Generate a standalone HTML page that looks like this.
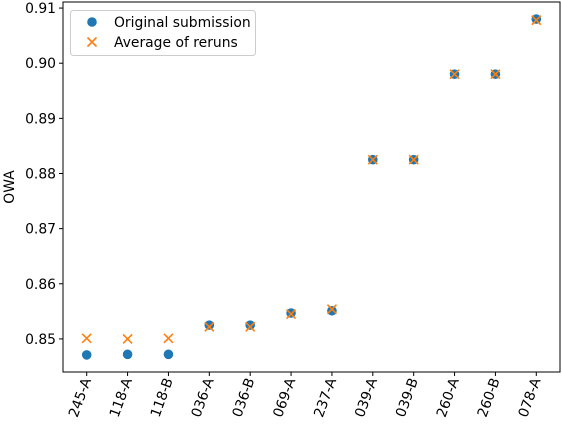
<!DOCTYPE html>
<html><head><meta charset="utf-8"><style>
html,body{margin:0;padding:0;background:#fff;}
svg{display:block;font-family:"DejaVu Sans","Liberation Sans",sans-serif;}
</style></head><body>
<svg id="chart" width="562" height="428" viewBox="0 0 562 428"></svg>
<script>
const categories=["245-A","118-A","118-B","036-A","036-B","069-A","237-A","039-A","039-B","260-A","260-B","078-A"];
const originalValues=[0.8471,0.8472,0.8472,0.8525,0.8525,0.8547,0.8551,0.8825,0.8825,0.8980,0.8980,0.9080];
const rerunValues=[0.8501,0.8500,0.8501,0.8522,0.8522,0.8545,0.8554,0.8825,0.8825,0.8980,0.8980,0.9078];
const yTicks=[0.85,0.86,0.87,0.88,0.89,0.90,0.91];
const yTickLabels=["0.85","0.86","0.87","0.88","0.89","0.90","0.91"];

const L=63,R=560,T=2,B=372;
const yMin=0.8440,yMax=0.9111;
const n=categories.length, pad=0.58;
const FS=13.9;
function xs(i){return L+(i+pad)*(R-L)/(n-1+2*pad);}
function ys(v){return B-(v-yMin)/(yMax-yMin)*(B-T);}
const NS="http://www.w3.org/2000/svg";
const svg=document.getElementById('chart');
function mk(tag,attrs,parent){const e=document.createElementNS(NS,tag);for(const k in attrs)e.setAttribute(k,attrs[k]);(parent||svg).appendChild(e);return e;}

const frame=mk('rect',{x:L,y:T,width:R-L,height:B-T,fill:'none',stroke:'#000','stroke-width':1});



yTicks.forEach((t,i)=>{
  const y=ys(t);
  const tk=mk('line',{x1:L-4,x2:L,y1:y,y2:y,stroke:'#000'});
  
  
  const tx=mk('text',{x:L-7,y:y+5,'text-anchor':'end','font-size':FS});
  tx.textContent=yTickLabels[i];
  
  
});
categories.forEach((c,i)=>{
  const x=xs(i);
  const tk=mk('line',{x1:x,x2:x,y1:B,y2:B+4,stroke:'#000'});
  
  
  const tx=mk('text',{x:0,y:0,'text-anchor':'end','font-size':FS,transform:`translate(${x+4.5},${B+8}) rotate(-70)`});
  tx.textContent=c;
  
  
});
const yt=mk('text',{x:0,y:0,'text-anchor':'middle','font-size':FS,transform:`translate(14,${(T+B)/2}) rotate(-90)`});
yt.textContent='OWA';



function cross(x,y,p){const g=mk('g',{stroke:'#ff7f0e','stroke-width':1.6},p);mk('line',{x1:x-4.5,y1:y-4.5,x2:x+4.5,y2:y+4.5},g);mk('line',{x1:x-4.5,y1:y+4.5,x2:x+4.5,y2:y-4.5},g);return g;}
originalValues.forEach((v,i)=>{
  const c=mk('circle',{cx:xs(i),cy:ys(v),r:4.8,fill:'#1f77b4'});
  
  
});
rerunValues.forEach((v,i)=>{
  const g=cross(xs(i),ys(v));
  
  
});

const lg=mk('g',{});


mk('rect',{x:70.5,y:10.5,width:185,height:45,rx:3,fill:'#fff','fill-opacity':0.8,stroke:'#ccc'},lg);
const c1=mk('circle',{cx:92,cy:22,r:4.8,fill:'#1f77b4'},lg);


const t1=mk('text',{x:114,y:27,'font-size':FS},lg);t1.textContent='Original submission';


const c2=cross(92,42,lg);


const t2=mk('text',{x:114,y:47,'font-size':FS},lg);t2.textContent='Average of reruns';


</script>
</body></html>
